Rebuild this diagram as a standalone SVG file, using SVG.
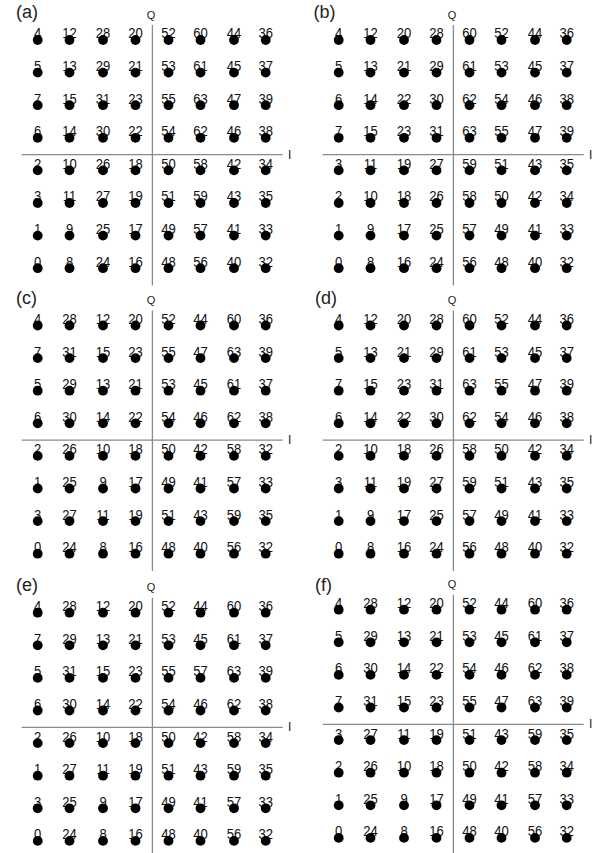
<svg xmlns="http://www.w3.org/2000/svg" xmlns:xlink="http://www.w3.org/1999/xlink" width="598" height="853" viewBox="0 0 598 853">
<style>
.ax{stroke:#8a8a8a;stroke-width:1.3;fill:none}
.n{font-family:"Liberation Sans",Arial,sans-serif;font-size:15px;fill:#111;text-anchor:middle}
.q{font-family:"Liberation Sans",Arial,sans-serif;font-size:11px;fill:#222;text-anchor:middle}
.i{font-family:"Liberation Sans",Arial,sans-serif;font-size:12px;fill:#222}
.p{font-family:"Liberation Sans",Arial,sans-serif;font-size:18px;fill:#222}
</style>
<defs>
<g id="dots" fill="#000">
<g id="drow">
<circle cx="37.7" cy="40" r="4.9"/><circle cx="69.5" cy="40" r="4.9"/><circle cx="103" cy="40" r="4.9"/><circle cx="135.5" cy="40" r="4.9"/><circle cx="168.5" cy="40" r="4.9"/><circle cx="200.5" cy="40" r="4.9"/><circle cx="234" cy="40" r="4.9"/><circle cx="265.7" cy="40" r="4.9"/>
</g>
<use xlink:href="#drow" href="#drow" y="32.6"/>
<use xlink:href="#drow" href="#drow" y="65.2"/>
<use xlink:href="#drow" href="#drow" y="97.8"/>
<use xlink:href="#drow" href="#drow" y="130.4"/>
<use xlink:href="#drow" href="#drow" y="163"/>
<use xlink:href="#drow" href="#drow" y="195.6"/>
<use xlink:href="#drow" href="#drow" y="228.2"/>
</g>
<g id="axes">
<line class="ax" x1="152.4" y1="25" x2="152.4" y2="285.5"/>
<line class="ax" x1="21.7" y1="154.7" x2="282.7" y2="154.7"/>
<text class="q" x="151" y="18.5">Q</text>
<text class="i" x="288" y="158.5">I</text>
</g>
</defs>

<text class="p" x="16" y="18">(a)</text>
<text class="p" x="313.5" y="18">(b)</text>
<text class="p" x="16" y="303.5">(c)</text>
<text class="p" x="315" y="303.5">(d)</text>
<text class="p" x="16" y="591.3">(e)</text>
<text class="p" x="315" y="591">(f)</text>

<g id="panel-a" transform="translate(0,0)">
<use xlink:href="#axes" href="#axes"/>
<g transform="translate(0,-1) scale(0.87,1)">
<text class="n" y="39.5"><tspan x="43.3">4</tspan><tspan x="79.9">12</tspan><tspan x="118.4">28</tspan><tspan x="155.7">20</tspan><tspan x="193.7">52</tspan><tspan x="230.5">60</tspan><tspan x="269">44</tspan><tspan x="305.4">36</tspan></text>
<text class="n" y="72.1"><tspan x="43.3">5</tspan><tspan x="79.9">13</tspan><tspan x="118.4">29</tspan><tspan x="155.7">21</tspan><tspan x="193.7">53</tspan><tspan x="230.5">61</tspan><tspan x="269">45</tspan><tspan x="305.4">37</tspan></text>
<text class="n" y="104.7"><tspan x="43.3">7</tspan><tspan x="79.9">15</tspan><tspan x="118.4">31</tspan><tspan x="155.7">23</tspan><tspan x="193.7">55</tspan><tspan x="230.5">63</tspan><tspan x="269">47</tspan><tspan x="305.4">39</tspan></text>
<text class="n" y="137.3"><tspan x="43.3">6</tspan><tspan x="79.9">14</tspan><tspan x="118.4">30</tspan><tspan x="155.7">22</tspan><tspan x="193.7">54</tspan><tspan x="230.5">62</tspan><tspan x="269">46</tspan><tspan x="305.4">38</tspan></text>
<text class="n" y="169.9"><tspan x="43.3">2</tspan><tspan x="79.9">10</tspan><tspan x="118.4">26</tspan><tspan x="155.7">18</tspan><tspan x="193.7">50</tspan><tspan x="230.5">58</tspan><tspan x="269">42</tspan><tspan x="305.4">34</tspan></text>
<text class="n" y="202.5"><tspan x="43.3">3</tspan><tspan x="79.9">11</tspan><tspan x="118.4">27</tspan><tspan x="155.7">19</tspan><tspan x="193.7">51</tspan><tspan x="230.5">59</tspan><tspan x="269">43</tspan><tspan x="305.4">35</tspan></text>
<text class="n" y="235.1"><tspan x="43.3">1</tspan><tspan x="79.9">9</tspan><tspan x="118.4">25</tspan><tspan x="155.7">17</tspan><tspan x="193.7">49</tspan><tspan x="230.5">57</tspan><tspan x="269">41</tspan><tspan x="305.4">33</tspan></text>
<text class="n" y="267.7"><tspan x="43.3">0</tspan><tspan x="79.9">8</tspan><tspan x="118.4">24</tspan><tspan x="155.7">16</tspan><tspan x="193.7">48</tspan><tspan x="230.5">56</tspan><tspan x="269">40</tspan><tspan x="305.4">32</tspan></text>
</g>
<use xlink:href="#dots" href="#dots"/>
</g>

<g id="panel-b" transform="translate(301,0)">
<use xlink:href="#axes" href="#axes"/>
<g transform="translate(0,-1) scale(0.87,1)">
<text class="n" y="39.5"><tspan x="43.3">4</tspan><tspan x="79.9">12</tspan><tspan x="118.4">20</tspan><tspan x="155.7">28</tspan><tspan x="193.7">60</tspan><tspan x="230.5">52</tspan><tspan x="269">44</tspan><tspan x="305.4">36</tspan></text>
<text class="n" y="72.1"><tspan x="43.3">5</tspan><tspan x="79.9">13</tspan><tspan x="118.4">21</tspan><tspan x="155.7">29</tspan><tspan x="193.7">61</tspan><tspan x="230.5">53</tspan><tspan x="269">45</tspan><tspan x="305.4">37</tspan></text>
<text class="n" y="104.7"><tspan x="43.3">6</tspan><tspan x="79.9">14</tspan><tspan x="118.4">22</tspan><tspan x="155.7">30</tspan><tspan x="193.7">62</tspan><tspan x="230.5">54</tspan><tspan x="269">46</tspan><tspan x="305.4">38</tspan></text>
<text class="n" y="137.3"><tspan x="43.3">7</tspan><tspan x="79.9">15</tspan><tspan x="118.4">23</tspan><tspan x="155.7">31</tspan><tspan x="193.7">63</tspan><tspan x="230.5">55</tspan><tspan x="269">47</tspan><tspan x="305.4">39</tspan></text>
<text class="n" y="169.9"><tspan x="43.3">3</tspan><tspan x="79.9">11</tspan><tspan x="118.4">19</tspan><tspan x="155.7">27</tspan><tspan x="193.7">59</tspan><tspan x="230.5">51</tspan><tspan x="269">43</tspan><tspan x="305.4">35</tspan></text>
<text class="n" y="202.5"><tspan x="43.3">2</tspan><tspan x="79.9">10</tspan><tspan x="118.4">18</tspan><tspan x="155.7">26</tspan><tspan x="193.7">58</tspan><tspan x="230.5">50</tspan><tspan x="269">42</tspan><tspan x="305.4">34</tspan></text>
<text class="n" y="235.1"><tspan x="43.3">1</tspan><tspan x="79.9">9</tspan><tspan x="118.4">17</tspan><tspan x="155.7">25</tspan><tspan x="193.7">57</tspan><tspan x="230.5">49</tspan><tspan x="269">41</tspan><tspan x="305.4">33</tspan></text>
<text class="n" y="267.7"><tspan x="43.3">0</tspan><tspan x="79.9">8</tspan><tspan x="118.4">16</tspan><tspan x="155.7">24</tspan><tspan x="193.7">56</tspan><tspan x="230.5">48</tspan><tspan x="269">40</tspan><tspan x="305.4">32</tspan></text>
</g>
<use xlink:href="#dots" href="#dots"/>
</g>

<g id="panel-c" transform="translate(0,285.5)">
<use xlink:href="#axes" href="#axes"/>
<g transform="translate(0,-1) scale(0.87,1)">
<text class="n" y="39.5"><tspan x="43.3">4</tspan><tspan x="79.9">28</tspan><tspan x="118.4">12</tspan><tspan x="155.7">20</tspan><tspan x="193.7">52</tspan><tspan x="230.5">44</tspan><tspan x="269">60</tspan><tspan x="305.4">36</tspan></text>
<text class="n" y="72.1"><tspan x="43.3">7</tspan><tspan x="79.9">31</tspan><tspan x="118.4">15</tspan><tspan x="155.7">23</tspan><tspan x="193.7">55</tspan><tspan x="230.5">47</tspan><tspan x="269">63</tspan><tspan x="305.4">39</tspan></text>
<text class="n" y="104.7"><tspan x="43.3">5</tspan><tspan x="79.9">29</tspan><tspan x="118.4">13</tspan><tspan x="155.7">21</tspan><tspan x="193.7">53</tspan><tspan x="230.5">45</tspan><tspan x="269">61</tspan><tspan x="305.4">37</tspan></text>
<text class="n" y="137.3"><tspan x="43.3">6</tspan><tspan x="79.9">30</tspan><tspan x="118.4">14</tspan><tspan x="155.7">22</tspan><tspan x="193.7">54</tspan><tspan x="230.5">46</tspan><tspan x="269">62</tspan><tspan x="305.4">38</tspan></text>
<text class="n" y="169.9"><tspan x="43.3">2</tspan><tspan x="79.9">26</tspan><tspan x="118.4">10</tspan><tspan x="155.7">18</tspan><tspan x="193.7">50</tspan><tspan x="230.5">42</tspan><tspan x="269">58</tspan><tspan x="305.4">32</tspan></text>
<text class="n" y="202.5"><tspan x="43.3">1</tspan><tspan x="79.9">25</tspan><tspan x="118.4">9</tspan><tspan x="155.7">17</tspan><tspan x="193.7">49</tspan><tspan x="230.5">41</tspan><tspan x="269">57</tspan><tspan x="305.4">33</tspan></text>
<text class="n" y="235.1"><tspan x="43.3">3</tspan><tspan x="79.9">27</tspan><tspan x="118.4">11</tspan><tspan x="155.7">19</tspan><tspan x="193.7">51</tspan><tspan x="230.5">43</tspan><tspan x="269">59</tspan><tspan x="305.4">35</tspan></text>
<text class="n" y="267.7"><tspan x="43.3">0</tspan><tspan x="79.9">24</tspan><tspan x="118.4">8</tspan><tspan x="155.7">16</tspan><tspan x="193.7">48</tspan><tspan x="230.5">40</tspan><tspan x="269">56</tspan><tspan x="305.4">32</tspan></text>
</g>
<use xlink:href="#dots" href="#dots"/>
</g>

<g id="panel-d" transform="translate(301,285.5)">
<use xlink:href="#axes" href="#axes"/>
<g transform="translate(0,-1) scale(0.87,1)">
<text class="n" y="39.5"><tspan x="43.3">4</tspan><tspan x="79.9">12</tspan><tspan x="118.4">20</tspan><tspan x="155.7">28</tspan><tspan x="193.7">60</tspan><tspan x="230.5">52</tspan><tspan x="269">44</tspan><tspan x="305.4">36</tspan></text>
<text class="n" y="72.1"><tspan x="43.3">5</tspan><tspan x="79.9">13</tspan><tspan x="118.4">21</tspan><tspan x="155.7">29</tspan><tspan x="193.7">61</tspan><tspan x="230.5">53</tspan><tspan x="269">45</tspan><tspan x="305.4">37</tspan></text>
<text class="n" y="104.7"><tspan x="43.3">7</tspan><tspan x="79.9">15</tspan><tspan x="118.4">23</tspan><tspan x="155.7">31</tspan><tspan x="193.7">63</tspan><tspan x="230.5">55</tspan><tspan x="269">47</tspan><tspan x="305.4">39</tspan></text>
<text class="n" y="137.3"><tspan x="43.3">6</tspan><tspan x="79.9">14</tspan><tspan x="118.4">22</tspan><tspan x="155.7">30</tspan><tspan x="193.7">62</tspan><tspan x="230.5">54</tspan><tspan x="269">46</tspan><tspan x="305.4">38</tspan></text>
<text class="n" y="169.9"><tspan x="43.3">2</tspan><tspan x="79.9">10</tspan><tspan x="118.4">18</tspan><tspan x="155.7">26</tspan><tspan x="193.7">58</tspan><tspan x="230.5">50</tspan><tspan x="269">42</tspan><tspan x="305.4">34</tspan></text>
<text class="n" y="202.5"><tspan x="43.3">3</tspan><tspan x="79.9">11</tspan><tspan x="118.4">19</tspan><tspan x="155.7">27</tspan><tspan x="193.7">59</tspan><tspan x="230.5">51</tspan><tspan x="269">43</tspan><tspan x="305.4">35</tspan></text>
<text class="n" y="235.1"><tspan x="43.3">1</tspan><tspan x="79.9">9</tspan><tspan x="118.4">17</tspan><tspan x="155.7">25</tspan><tspan x="193.7">57</tspan><tspan x="230.5">49</tspan><tspan x="269">41</tspan><tspan x="305.4">33</tspan></text>
<text class="n" y="267.7"><tspan x="43.3">0</tspan><tspan x="79.9">8</tspan><tspan x="118.4">16</tspan><tspan x="155.7">24</tspan><tspan x="193.7">56</tspan><tspan x="230.5">48</tspan><tspan x="269">40</tspan><tspan x="305.4">32</tspan></text>
</g>
<use xlink:href="#dots" href="#dots"/>
</g>

<g id="panel-e" transform="translate(0,572.7)">
<use xlink:href="#axes" href="#axes"/>
<g transform="translate(0,-1) scale(0.87,1)">
<text class="n" y="39.5"><tspan x="43.3">4</tspan><tspan x="79.9">28</tspan><tspan x="118.4">12</tspan><tspan x="155.7">20</tspan><tspan x="193.7">52</tspan><tspan x="230.5">44</tspan><tspan x="269">60</tspan><tspan x="305.4">36</tspan></text>
<text class="n" y="72.1"><tspan x="43.3">7</tspan><tspan x="79.9">29</tspan><tspan x="118.4">13</tspan><tspan x="155.7">21</tspan><tspan x="193.7">53</tspan><tspan x="230.5">45</tspan><tspan x="269">61</tspan><tspan x="305.4">37</tspan></text>
<text class="n" y="104.7"><tspan x="43.3">5</tspan><tspan x="79.9">31</tspan><tspan x="118.4">15</tspan><tspan x="155.7">23</tspan><tspan x="193.7">55</tspan><tspan x="230.5">57</tspan><tspan x="269">63</tspan><tspan x="305.4">39</tspan></text>
<text class="n" y="137.3"><tspan x="43.3">6</tspan><tspan x="79.9">30</tspan><tspan x="118.4">14</tspan><tspan x="155.7">22</tspan><tspan x="193.7">54</tspan><tspan x="230.5">46</tspan><tspan x="269">62</tspan><tspan x="305.4">38</tspan></text>
<text class="n" y="169.9"><tspan x="43.3">2</tspan><tspan x="79.9">26</tspan><tspan x="118.4">10</tspan><tspan x="155.7">18</tspan><tspan x="193.7">50</tspan><tspan x="230.5">42</tspan><tspan x="269">58</tspan><tspan x="305.4">34</tspan></text>
<text class="n" y="202.5"><tspan x="43.3">1</tspan><tspan x="79.9">27</tspan><tspan x="118.4">11</tspan><tspan x="155.7">19</tspan><tspan x="193.7">51</tspan><tspan x="230.5">43</tspan><tspan x="269">59</tspan><tspan x="305.4">35</tspan></text>
<text class="n" y="235.1"><tspan x="43.3">3</tspan><tspan x="79.9">25</tspan><tspan x="118.4">9</tspan><tspan x="155.7">17</tspan><tspan x="193.7">49</tspan><tspan x="230.5">41</tspan><tspan x="269">57</tspan><tspan x="305.4">33</tspan></text>
<text class="n" y="267.7"><tspan x="43.3">0</tspan><tspan x="79.9">24</tspan><tspan x="118.4">8</tspan><tspan x="155.7">16</tspan><tspan x="193.7">48</tspan><tspan x="230.5">40</tspan><tspan x="269">56</tspan><tspan x="305.4">32</tspan></text>
</g>
<use xlink:href="#dots" href="#dots"/>
</g>

<g id="panel-f" transform="translate(301,569.7)">
<use xlink:href="#axes" href="#axes"/>
<g transform="translate(0,-1) scale(0.87,1)">
<text class="n" y="39.5"><tspan x="43.3">4</tspan><tspan x="79.9">28</tspan><tspan x="118.4">12</tspan><tspan x="155.7">20</tspan><tspan x="193.7">52</tspan><tspan x="230.5">44</tspan><tspan x="269">60</tspan><tspan x="305.4">36</tspan></text>
<text class="n" y="72.1"><tspan x="43.3">5</tspan><tspan x="79.9">29</tspan><tspan x="118.4">13</tspan><tspan x="155.7">21</tspan><tspan x="193.7">53</tspan><tspan x="230.5">45</tspan><tspan x="269">61</tspan><tspan x="305.4">37</tspan></text>
<text class="n" y="104.7"><tspan x="43.3">6</tspan><tspan x="79.9">30</tspan><tspan x="118.4">14</tspan><tspan x="155.7">22</tspan><tspan x="193.7">54</tspan><tspan x="230.5">46</tspan><tspan x="269">62</tspan><tspan x="305.4">38</tspan></text>
<text class="n" y="137.3"><tspan x="43.3">7</tspan><tspan x="79.9">31</tspan><tspan x="118.4">15</tspan><tspan x="155.7">23</tspan><tspan x="193.7">55</tspan><tspan x="230.5">47</tspan><tspan x="269">63</tspan><tspan x="305.4">39</tspan></text>
<text class="n" y="169.9"><tspan x="43.3">3</tspan><tspan x="79.9">27</tspan><tspan x="118.4">11</tspan><tspan x="155.7">19</tspan><tspan x="193.7">51</tspan><tspan x="230.5">43</tspan><tspan x="269">59</tspan><tspan x="305.4">35</tspan></text>
<text class="n" y="202.5"><tspan x="43.3">2</tspan><tspan x="79.9">26</tspan><tspan x="118.4">10</tspan><tspan x="155.7">18</tspan><tspan x="193.7">50</tspan><tspan x="230.5">42</tspan><tspan x="269">58</tspan><tspan x="305.4">34</tspan></text>
<text class="n" y="235.1"><tspan x="43.3">1</tspan><tspan x="79.9">25</tspan><tspan x="118.4">9</tspan><tspan x="155.7">17</tspan><tspan x="193.7">49</tspan><tspan x="230.5">41</tspan><tspan x="269">57</tspan><tspan x="305.4">33</tspan></text>
<text class="n" y="267.7"><tspan x="43.3">0</tspan><tspan x="79.9">24</tspan><tspan x="118.4">8</tspan><tspan x="155.7">16</tspan><tspan x="193.7">48</tspan><tspan x="230.5">40</tspan><tspan x="269">56</tspan><tspan x="305.4">32</tspan></text>
</g>
<use xlink:href="#dots" href="#dots"/>
</g>
</svg>
